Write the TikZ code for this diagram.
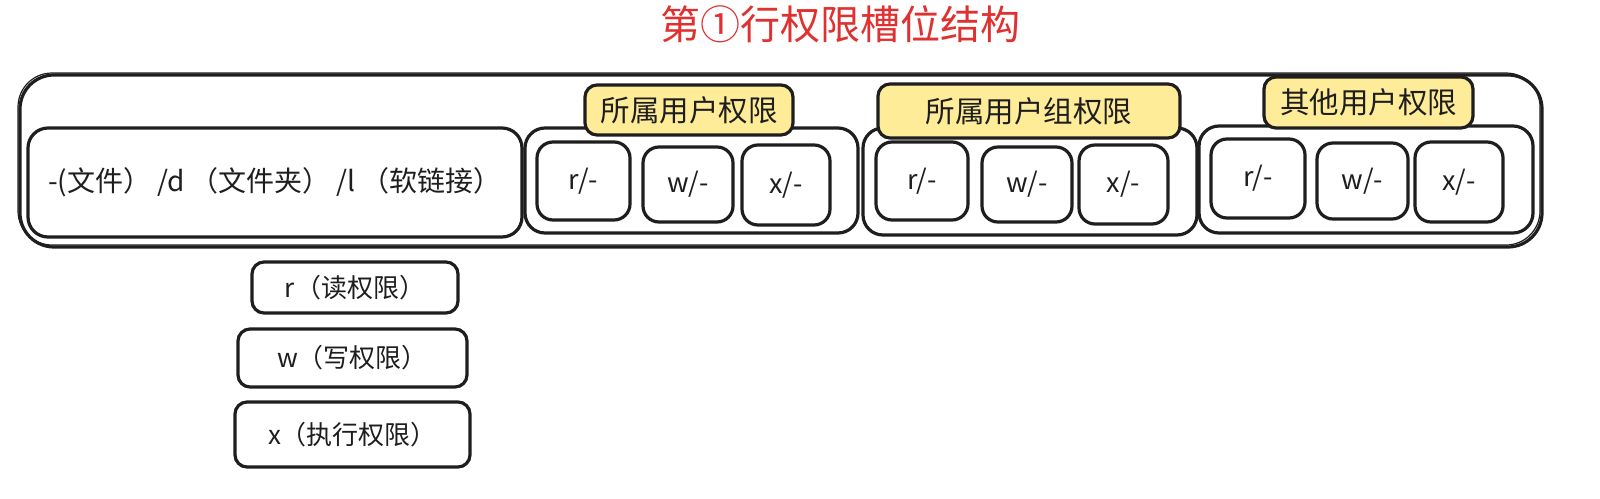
\documentclass[tikz,border=0pt]{standalone}
\usepackage{fontspec}
\newfontfamily\cjk{Noto Sans CJK SC}
\definecolor{ink}{HTML}{1E1E1E}
\definecolor{ylw}{HTML}{FFEC99}
\definecolor{ttl}{HTML}{E03131}
\newcommand{\gp}{\hspace{6pt}}
\tikzset{
  sk/.style={draw=ink, line width=3.2pt, rounded corners=#1, inner sep=0pt, font=\cjk, text=ink},
  sk/.default=14pt,
  cellbox/.style={sk=16pt, font=\cjk\fontsize{27}{30}\selectfont},
  grpbox/.style={sk=20pt},
  lblbox/.style={sk=12pt, fill=ylw, font=\cjk\fontsize{29.5}{32}\selectfont},
  keybox/.style={sk=12pt, font=\cjk\fontsize{26}{30}\selectfont},
  box/.style n args={2}{minimum width=#1pt, minimum height=#2pt}
}
\begin{document}
\begin{tikzpicture}[x=1pt,y=-1pt]
\useasboundingbox (0,0) rectangle (1600,498);
\node[text=ttl, font=\cjk\fontsize{40}{44}\selectfont] (title) at (840,24) {第①行权限槽位结构};
% outer frame
\node[sk=34pt, box={1522}{172}, postaction={draw=ink, line width=1.2pt, rounded corners=34pt, transform canvas={shift={(-2pt,2pt)}}}] (outer) at (781,161) {};
% file type
\node[grpbox, box={494}{109}, font=\cjk\fontsize{28}{30}\selectfont] (ftype) at (275,182.5) {-(文件）\gp/d\gp（文件夹）\gp/l\gp（软链接）};
% group 1
\node[grpbox, box={333}{105}] (g1) at (691.5,180.5) {};
\node[lblbox, box={208}{50}] (l1) at (689,110) {所属用户权限};
\node[cellbox, box={93}{78}] (g1r) at (583.5,181) {r/-};
\node[cellbox, box={90}{75}] (g1w) at (688,184.5) {w/-};
\node[cellbox, box={88}{80}] (g1x) at (786,185) {x/-};
% group 2
\node[grpbox, box={334}{107}] (g2) at (1030,181.5) {};
\node[lblbox, box={302}{54}] (l2) at (1029,111) {所属用户组权限};
\node[cellbox, box={92}{78}] (g2r) at (922,181) {r/-};
\node[cellbox, box={90}{75}] (g2w) at (1027,184.5) {w/-};
\node[cellbox, box={89}{79}] (g2x) at (1123.5,184.5) {x/-};
% group 3
\node[grpbox, box={334}{107}] (g3) at (1366,179.5) {};
\node[lblbox, box={209}{51}] (l3) at (1368.5,102.5) {其他用户权限};
\node[cellbox, box={94}{79}] (g3r) at (1258,178.5) {r/-};
\node[cellbox, box={91}{76}] (g3w) at (1362.5,181) {w/-};
\node[cellbox, box={88}{80}] (g3x) at (1459,182) {x/-};
% legend
\node[keybox, box={206}{51}] (kr) at (355,287.5) {r（读权限）};
\node[keybox, box={229}{58}] (kw) at (352.5,358) {w（写权限）};
\node[keybox, box={235}{65}] (kx) at (352.5,434.5) {x（执行权限）};
\end{tikzpicture}
\end{document}
